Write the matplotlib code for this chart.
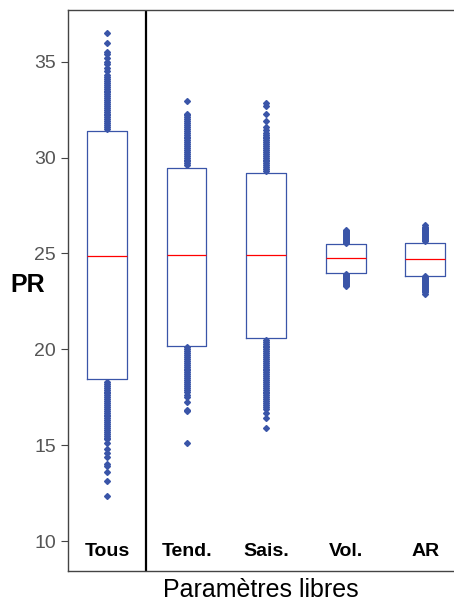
import matplotlib.pyplot as plt

plt.rcParams['font.family'] = ['Liberation Sans', 'DejaVu Sans']

# box stats
labels = ['Tous', 'Tend.', 'Sais.', 'Vol.', 'AR']
q1 = [18.44, 20.2, 20.6, 24.0, 23.85]
med = [24.85, 24.9, 24.9, 24.75, 24.7]
q3 = [31.4, 29.48, 29.2, 25.5, 25.57]

# outliers (dense columns above and below each box)
tous_out = [31.5, 31.6, 31.7, 31.8, 31.9, 32.0, 32.1, 32.2, 32.3, 32.4, 32.5, 32.6,
            32.7, 32.8, 32.9, 33.0, 33.1, 33.2, 33.3, 33.4, 33.5, 33.6, 33.7, 33.8,
            33.9, 34.0, 34.1, 34.2, 34.3, 34.5, 34.7, 34.9, 35.0, 35.2, 35.4, 35.5,
            36.0, 36.5,
            18.3, 18.2, 18.1, 18.0, 17.9, 17.8, 17.7, 17.6, 17.5, 17.4, 17.3, 17.2,
            17.1, 17.0, 16.9, 16.8, 16.7, 16.6, 16.5, 16.4, 16.3, 16.2, 16.1, 16.0,
            15.9, 15.8, 15.7, 15.6, 15.5, 15.4, 15.3, 15.1, 14.8, 14.6, 14.4, 14.0,
            13.9, 13.6, 13.15, 12.35]
tend_out = [29.6, 29.7, 29.8, 29.9, 30.0, 30.1, 30.2, 30.3, 30.4, 30.5, 30.6, 30.7,
            30.8, 30.9, 31.0, 31.1, 31.2, 31.3, 31.4, 31.5, 31.6, 31.7, 31.8, 31.9,
            32.0, 32.1, 32.2, 32.3, 32.95,
            20.1, 20.0, 19.9, 19.8, 19.7, 19.6, 19.5, 19.4, 19.3, 19.2, 19.1, 19.0,
            18.9, 18.8, 18.7, 18.6, 18.5, 18.4, 18.3, 18.2, 18.1, 18.0, 17.9, 17.8,
            17.6, 17.5, 17.25, 16.85, 16.8, 15.1]
sais_out = [29.3, 29.4, 29.5, 29.6, 29.7, 29.8, 29.9, 30.0, 30.1, 30.2, 30.3, 30.4,
            30.5, 30.6, 30.7, 30.8, 30.9, 31.0, 31.1, 31.2, 31.3, 31.45, 31.6, 31.9,
            32.3, 32.7, 32.85,
            20.5, 20.4, 20.3, 20.2, 20.1, 20.0, 19.9, 19.8, 19.7, 19.6, 19.5, 19.4,
            19.3, 19.2, 19.1, 19.0, 18.9, 18.8, 18.7, 18.6, 18.5, 18.4, 18.3, 18.2,
            18.1, 18.0, 17.9, 17.8, 17.7, 17.6, 17.5, 17.4, 17.3, 17.2, 17.1, 17.0,
            16.9, 16.7, 16.4, 15.9]
vol_out = [25.55, 25.6, 25.65, 25.7, 25.75, 25.8, 25.85, 25.9, 25.95, 26.0, 26.05,
           26.1, 26.15, 26.2,
           23.95, 23.9, 23.85, 23.8, 23.75, 23.7, 23.65, 23.6, 23.55, 23.5, 23.45,
           23.4, 23.35, 23.3]
ar_out = [25.65, 25.7, 25.75, 25.8, 25.85, 25.9, 25.95, 26.0, 26.05, 26.1, 26.15,
          26.2, 26.25, 26.3, 26.35, 26.4, 26.5,
          23.8, 23.75, 23.7, 23.65, 23.6, 23.55, 23.5, 23.45, 23.4, 23.35, 23.3,
          23.25, 23.2, 23.15, 23.1, 23.05, 23.0, 22.9]
fliers = [tous_out, tend_out, sais_out, vol_out, ar_out]

stats = []
for i in range(len(labels)):
    stats.append({'med': med[i], 'q1': q1[i], 'q3': q3[i],
                  'whislo': q1[i], 'whishi': q3[i], 'fliers': fliers[i]})

blue = '#3a55a8'

fig = plt.figure(figsize=(4.54, 6.06), dpi=100)
ax = fig.add_axes([0.1498, 0.0578, 0.8502, 0.9257])

ax.bxp(stats, positions=[1, 2, 3, 4, 5], widths=0.5, showcaps=False,
       boxprops=dict(color=blue, linewidth=0.9),
       whiskerprops=dict(color=blue, linewidth=0.9),
       medianprops=dict(color='red', linewidth=0.9),
       flierprops=dict(marker='D', markersize=3, markerfacecolor=blue,
                       markeredgecolor=blue, linestyle='none'))

ax.axvline(1.49, color='black', linewidth=1.6)

ax.set_xlim(0.51, 5.36)
ax.set_ylim(8.44, 37.7)
ax.set_yticks([10, 15, 20, 25, 30, 35])
ax.tick_params(axis='y', direction='out', length=5, labelsize=14,
               labelcolor='#555555', color='#444444')
ax.set_xticks([])
for i, lab in enumerate(labels):
    ax.text(i + 1, 9.45, lab, ha='center', va='center', fontsize=14,
            fontweight='bold')

ax.spines['right'].set_visible(False)
for s in ['left', 'top', 'bottom']:
    ax.spines[s].set_color('#444444')
    ax.spines[s].set_linewidth(1.0)

ax.set_ylabel('PR', fontsize=18, fontweight='bold', rotation=0, va='center',
              ha='center')
ax.yaxis.set_label_coords(-0.105, 0.51)
ax.set_xlabel('Paramètres libres', fontsize=18, labelpad=5)

fig.savefig('out.png', dpi=100)
